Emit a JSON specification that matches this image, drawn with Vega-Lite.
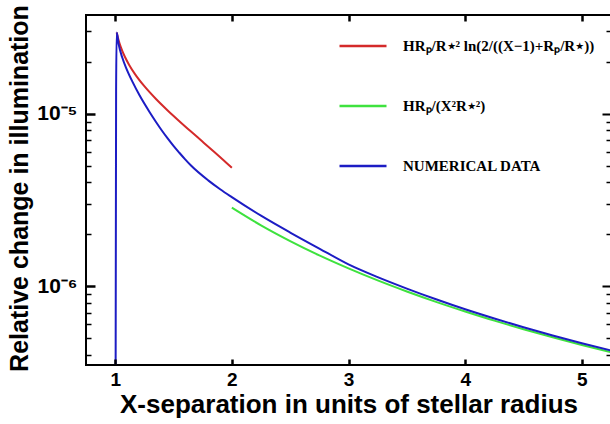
{
  "$schema": "https://vega.github.io/schema/vega-lite/v6.json",
  "width": 525,
  "height": 350,
  "autosize": "none",
  "padding": {"left": 86, "top": 15, "right": 0, "bottom": 59},
  "background": "white",
  "config": {
    "view": {"stroke": "#000", "strokeWidth": 2},
    "font": "Liberation Sans"
  },
  "data": {
    "values": [
      {"x": 1.013, "y": 2.955e-5, "c": "ln"},
      {"x": 1.03, "y": 2.656e-5, "c": "ln"},
      {"x": 1.05, "y": 2.414e-5, "c": "ln"},
      {"x": 1.08, "y": 2.157e-5, "c": "ln"},
      {"x": 1.12, "y": 1.915e-5, "c": "ln"},
      {"x": 1.17, "y": 1.695e-5, "c": "ln"},
      {"x": 1.25, "y": 1.442e-5, "c": "ln"},
      {"x": 1.35, "y": 1.215e-5, "c": "ln"},
      {"x": 1.45, "y": 1.043e-5, "c": "ln"},
      {"x": 1.55, "y": 9.04e-6, "c": "ln"},
      {"x": 1.65, "y": 7.87e-6, "c": "ln"},
      {"x": 1.75, "y": 6.87e-6, "c": "ln"},
      {"x": 1.85, "y": 5.99e-6, "c": "ln"},
      {"x": 1.95, "y": 5.21e-6, "c": "ln"},
      {"x": 2.0, "y": 4.85e-6, "c": "ln"},
      {"x": 2.0, "y": 2.85e-6, "c": "inv"},
      {"x": 2.25, "y": 2.25e-6, "c": "inv"},
      {"x": 2.5, "y": 1.824e-6, "c": "inv"},
      {"x": 2.75, "y": 1.507e-6, "c": "inv"},
      {"x": 3.0, "y": 1.267e-6, "c": "inv"},
      {"x": 3.25, "y": 1.079e-6, "c": "inv"},
      {"x": 3.5, "y": 9.31e-7, "c": "inv"},
      {"x": 3.75, "y": 8.11e-7, "c": "inv"},
      {"x": 4.0, "y": 7.13e-7, "c": "inv"},
      {"x": 4.25, "y": 6.31e-7, "c": "inv"},
      {"x": 4.5, "y": 5.63e-7, "c": "inv"},
      {"x": 4.75, "y": 5.05e-7, "c": "inv"},
      {"x": 5.0, "y": 4.56e-7, "c": "inv"},
      {"x": 5.25, "y": 4.14e-7, "c": "inv"},
      {"x": 1.004, "y": 3.5e-7, "c": "num"},
      {"x": 1.008, "y": 1.35e-5, "c": "num"},
      {"x": 1.013, "y": 2.95e-5, "c": "num"},
      {"x": 1.03, "y": 2.52e-5, "c": "num"},
      {"x": 1.06, "y": 2.12e-5, "c": "num"},
      {"x": 1.1, "y": 1.8e-5, "c": "num"},
      {"x": 1.15, "y": 1.522e-5, "c": "num"},
      {"x": 1.21, "y": 1.272e-5, "c": "num"},
      {"x": 1.3, "y": 1.008e-5, "c": "num"},
      {"x": 1.35, "y": 8.94e-6, "c": "num"},
      {"x": 1.4, "y": 7.98e-6, "c": "num"},
      {"x": 1.45, "y": 7.18e-6, "c": "num"},
      {"x": 1.5, "y": 6.5e-6, "c": "num"},
      {"x": 1.55, "y": 5.93e-6, "c": "num"},
      {"x": 1.6, "y": 5.43e-6, "c": "num"},
      {"x": 1.65, "y": 5.0e-6, "c": "num"},
      {"x": 1.8, "y": 4.09e-6, "c": "num"},
      {"x": 1.9, "y": 3.645e-6, "c": "num"},
      {"x": 2.0, "y": 3.28e-6, "c": "num"},
      {"x": 2.25, "y": 2.56e-6, "c": "num"},
      {"x": 2.5, "y": 2.045e-6, "c": "num"},
      {"x": 2.75, "y": 1.652e-6, "c": "num"},
      {"x": 3.0, "y": 1.337e-6, "c": "num"},
      {"x": 3.25, "y": 1.128e-6, "c": "num"},
      {"x": 3.5, "y": 9.68e-7, "c": "num"},
      {"x": 3.75, "y": 8.39e-7, "c": "num"},
      {"x": 4.0, "y": 7.34e-7, "c": "num"},
      {"x": 4.25, "y": 6.49e-7, "c": "num"},
      {"x": 4.5, "y": 5.78e-7, "c": "num"},
      {"x": 4.75, "y": 5.18e-7, "c": "num"},
      {"x": 5.0, "y": 4.67e-7, "c": "num"},
      {"x": 5.25, "y": 4.24e-7, "c": "num"}
    ]
  },
  "layer": [
    {
      "mark": {"type": "line", "strokeWidth": 2, "clip": true, "interpolate": "monotone"},
      "encoding": {
        "x": {
          "field": "x", "type": "quantitative",
          "scale": {"domain": [0.75, 5.25], "nice": false, "zero": false},
          "axis": {
            "orient": "bottom", "values": [1, 2, 3, 4, 5], "format": "d",
            "domain": false, "grid": false, "zindex": 1, "offset": -6,
            "ticks": true, "tickSize": 6, "tickWidth": 2.5, "tickColor": "#000", "tickOpacity": 1,
            "labelFont": "Liberation Sans", "labelFontSize": 19, "labelFontWeight": "bold",
            "labelColor": "#000", "labelPadding": 5,
            "title": "X-separation in units of stellar radius",
            "titleFont": "Liberation Sans", "titleFontSize": 26, "titleFontWeight": "bold",
            "titleColor": "#000", "titlePadding": 2
          }
        },
        "y": {
          "field": "y", "type": "quantitative",
          "scale": {"type": "log", "domain": [3.49e-7, 3.73e-5], "nice": false},
          "axis": {
            "orient": "left",
            "values": [1e-6, 1e-5],
            "labelExpr": "datum.value == 0.00001 ? '10⁻⁵' : '10⁻⁶'",
            "labelOverlap": false,
            "domain": false, "grid": false, "zindex": 1, "offset": -9,
            "ticks": true, "tickSize": 9, "tickWidth": 2.5, "tickColor": "#000", "tickOpacity": 1,
            "labelFont": "Liberation Sans", "labelFontSize": 21, "labelFontWeight": "bold",
            "labelColor": "#000", "labelPadding": 9,
            "title": "Relative change in illumination",
            "titleFont": "Liberation Sans", "titleFontSize": 25, "titleFontWeight": "bold",
            "titleColor": "#000", "titlePadding": 4, "titleY": 173
          }
        },
        "color": {
          "field": "c", "type": "nominal",
          "scale": {"domain": ["ln", "inv", "num"], "range": ["#d42a2a", "#3ee23e", "#1c1cc4"]},
          "legend": {
            "orient": "none", "legendX": 252, "legendY": 6,
            "title": null,
            "symbolType": "stroke", "symbolSize": 2209, "symbolStrokeWidth": 2.5,
            "labelFont": "Liberation Serif", "labelFontSize": 15, "labelFontWeight": "bold",
            "labelColor": "#000", "labelLimit": 400, "labelOffset": 15, "rowPadding": 27,
            "labelExpr": "datum.label == 'ln' ? 'HRₚ/R⋆² ln(2/((X−1)+Rₚ/R⋆))' : (datum.label == 'inv' ? 'HRₚ/(X²R⋆²)' : 'NUMERICAL DATA')"
          }
        }
      }
    },
    {
      "mark": {"type": "line", "opacity": 0},
      "encoding": {
        "x": {
          "field": "x", "type": "quantitative",
          "scale": {"domain": [0.75, 5.25], "nice": false, "zero": false},
          "axis": {
            "orient": "top", "values": [1, 2, 3, 4, 5], "labels": false,
            "domain": false, "grid": false, "title": null, "zindex": 1, "offset": -6,
            "ticks": true, "tickSize": 6, "tickWidth": 2.5, "tickColor": "#000", "tickOpacity": 1
          }
        },
        "y": {
          "field": "y", "type": "quantitative",
          "scale": {"type": "log", "domain": [3.49e-7, 3.73e-5], "nice": false},
          "axis": {
            "orient": "left",
            "values": [4e-7, 5e-7, 6e-7, 7e-7, 8e-7, 9e-7, 2e-6, 3e-6, 4e-6, 5e-6, 6e-6, 7e-6, 8e-6, 9e-6, 2e-5, 3e-5],
            "labels": false, "domain": false, "grid": false, "title": null, "zindex": 1, "offset": -5,
            "ticks": true, "tickSize": 5, "tickWidth": 1.5, "tickColor": "#000", "tickOpacity": 1
          }
        },
        "detail": {"field": "c", "type": "nominal"}
      }
    },
    {
      "mark": {"type": "line", "opacity": 0},
      "encoding": {
        "x": {
          "field": "x", "type": "quantitative",
          "scale": {"domain": [0.75, 5.25], "nice": false, "zero": false},
          "axis": null
        },
        "y": {
          "field": "y", "type": "quantitative",
          "scale": {"type": "log", "domain": [3.49e-7, 3.73e-5], "nice": false},
          "axis": {
            "orient": "right", "values": [1e-6, 1e-5],
            "labels": false, "domain": false, "grid": false, "title": null, "zindex": 1, "offset": -9,
            "ticks": true, "tickSize": 9, "tickWidth": 2, "tickColor": "#000"
          }
        },
        "detail": {"field": "c", "type": "nominal"}
      }
    },
    {
      "mark": {"type": "line", "opacity": 0},
      "encoding": {
        "x": {
          "field": "x", "type": "quantitative",
          "scale": {"domain": [0.75, 5.25], "nice": false, "zero": false},
          "axis": null
        },
        "y": {
          "field": "y", "type": "quantitative",
          "scale": {"type": "log", "domain": [3.49e-7, 3.73e-5], "nice": false},
          "axis": {
            "orient": "right",
            "values": [4e-7, 5e-7, 6e-7, 7e-7, 8e-7, 9e-7, 2e-6, 3e-6, 4e-6, 5e-6, 6e-6, 7e-6, 8e-6, 9e-6, 2e-5, 3e-5],
            "labels": false, "domain": false, "grid": false, "title": null, "zindex": 1, "offset": -5,
            "ticks": true, "tickSize": 5, "tickWidth": 1.5, "tickColor": "#000"
          }
        },
        "detail": {"field": "c", "type": "nominal"}
      }
    }
  ],
  "resolve": {"axis": {"x": "independent", "y": "independent"}}
}
